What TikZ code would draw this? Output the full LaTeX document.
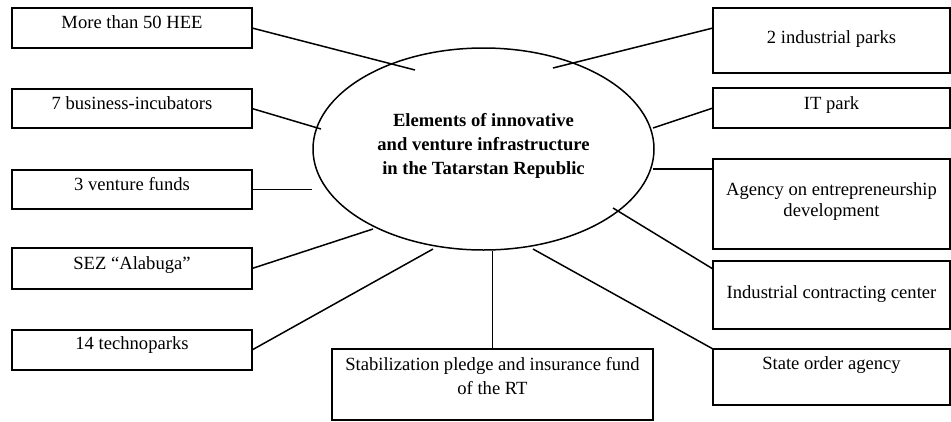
\documentclass[tikz,border=0pt]{standalone}
\usepackage{fontspec}
\setmainfont{Liberation Serif}
\usetikzlibrary{shapes.geometric}

\begin{document}
\begin{tikzpicture}[x=1pt,y=-1pt,
  box/.style={draw, line width=1.7pt, anchor=north west, inner sep=0pt, outer sep=0pt, align=center, font=\fontsize{18.6}{24}\selectfont},
  link/.style={line width=1.5pt}]

\useasboundingbox (0,0) rectangle (951,421);

\node[draw, ellipse, line width=1.5pt, minimum width=341pt, minimum height=202pt, inner sep=0pt, text height=61pt, text depth=11pt, align=center, font=\bfseries\fontsize{18.6}{24}\selectfont] (hub) at (483.5,149) {Elements of innovative\\and venture infrastructure\\in the Tatarstan Republic};

\node[box, minimum width=240pt, text height=20pt, text depth=20pt] (hee) at (12,8) {More than 50 HEE};
\node[box, minimum width=240pt, text height=20pt, text depth=19pt] (inc) at (12,89) {7 business-incubators};
\node[box, minimum width=240pt, text height=20pt, text depth=19pt] (vf) at (12,170) {3 venture funds};
\node[box, minimum width=240pt, text height=21pt, text depth=20pt] (sez) at (12,248) {SEZ “Alabuga”};
\node[box, minimum width=240pt, text height=19pt, text depth=21pt] (tech) at (12,330) {14 technoparks};

\node[box, minimum width=321pt, text height=45pt, text depth=26pt] (stab) at (332,349) {Stabilization pledge and insurance fund\\of the RT};

\node[box, minimum width=237pt, text height=35pt, text depth=30pt] (ip) at (713,8) {2 industrial parks};
\node[box, minimum width=237pt, text height=21pt, text depth=19pt] (itp) at (713,88) {IT park};
\node[box, minimum width=237pt, text height=57pt, text depth=33pt, font=\fontsize{18.6}{21}\selectfont] (aed) at (713,159) {Agency on entrepreneurship\\development};
\node[box, minimum width=237pt, text height=37pt, text depth=31pt] (icc) at (713,261) {Industrial contracting center};
\node[box, minimum width=237pt, text height=20pt, text depth=36pt] (soa) at (713,349) {State order agency};

\coordinate (e1) at (415,70);
\coordinate (e2) at (321,129);
\coordinate (e4) at (373,229);
\coordinate (e5) at (433,249);
\coordinate (e7) at (533,249);
\coordinate (e8) at (613,208);
\coordinate (e9) at (653,169);
\coordinate (e10) at (653,128);
\coordinate (e11) at (553,68);

\draw[link] (hee.east) -- (e1);
\draw[link] (inc.east) -- (e2);
\draw[link] (vf.east) -- (vf.east -| hub.west);
\draw[link] (sez.east) -- (e4);
\draw[link] (tech.east) -- (e5);
\draw[link] (stab.north) -- (stab.north |- hub.south);
\draw[link] (soa.north west) -- (e7);
\draw[link] ([yshift=26pt]icc.west) -- (e8);
\draw[link] ([yshift=35pt]aed.west) -- (e9);
\draw[link] (itp.west) -- (e10);
\draw[link] ([yshift=12.5pt]ip.west) -- (e11);

\end{tikzpicture}
\end{document}
